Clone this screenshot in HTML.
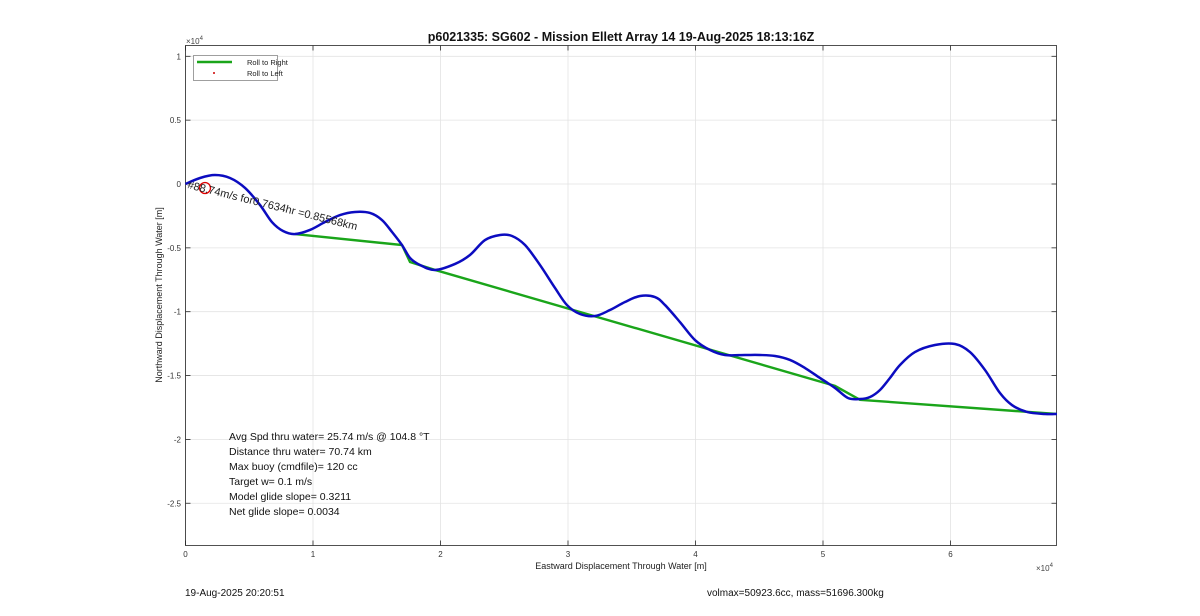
<!DOCTYPE html>
<html><head><meta charset="utf-8"><style>
body{margin:0;background:#fff;font-family:"Liberation Sans",Arial,sans-serif}
svg text{font-family:"Liberation Sans",Arial,sans-serif}
</style></head><body>
<svg id="chart" width="1200" height="611" viewBox="0 0 1200 611" xmlns="http://www.w3.org/2000/svg">
<rect width="1200" height="611" fill="#fff"/>
<text x="621" y="41" text-anchor="middle" font-size="12.5" font-weight="bold" fill="#111">p6021335: SG602 - Mission Ellett Array 14 19-Aug-2025 18:13:16Z</text>
<rect x="185.5" y="45.5" width="871" height="500" fill="#fff" stroke="none"/>
<g id="grid"></g>
<g id="ticks"></g>
<rect x="185.5" y="45.5" width="871" height="500" fill="none" stroke="#262626" stroke-width="0.8"/>
<g id="series"></g>
<circle cx="205" cy="188" r="5.5" fill="none" stroke="#d00" stroke-width="1.3"/>
<text x="187" y="188" font-size="11" fill="#222" transform="rotate(14 187 188)">#88.74m/s for0.7634hr =0.85568km</text>
<text x="186" y="44" font-size="8" fill="#444">×10<tspan dy="-4" font-size="6">4</tspan></text>
<text x="1036" y="571" font-size="8" fill="#444">×10<tspan dy="-4" font-size="6">4</tspan></text>
<text x="621" y="569" text-anchor="middle" font-size="9" fill="#222">Eastward Displacement Through Water [m]</text>
<text x="162" y="295" text-anchor="middle" font-size="9" fill="#222" transform="rotate(-90 162 295)">Northward Displacement Through Water [m]</text>
<g>
<rect x="193.5" y="55.5" width="84" height="25" fill="#fff" stroke="#777" stroke-width="0.7"/>
<line x1="197" y1="62" x2="232" y2="62" stroke="#1aa51a" stroke-width="2.5"/>
<text x="247" y="65" font-size="7.5" fill="#222">Roll to Right</text>
<circle cx="214" cy="73" r="1" fill="#c00"/>
<text x="247" y="76" font-size="7.5" fill="#222">Roll to Left</text>
</g>
<g font-size="10.5" fill="#111">
<text x="229" y="440">Avg Spd thru water= 25.74 m/s @ 104.8 °T</text>
<text x="229" y="455">Distance thru water= 70.74 km</text>
<text x="229" y="470">Max buoy (cmdfile)= 120 cc</text>
<text x="229" y="485">Target w= 0.1 m/s</text>
<text x="229" y="500">Model glide slope= 0.3211</text>
<text x="229" y="515">Net glide slope= 0.0034</text>
</g>
<text x="185" y="596" font-size="10" fill="#111">19-Aug-2025 20:20:51</text>
<text x="707" y="596" font-size="10" fill="#111">volmax=50923.6cc, mass=51696.300kg</text>
</svg>
<script>
const xTicks=[0,1,2,3,4,5,6];
const yTicks=[1,0.5,0,-0.5,-1,-1.5,-2,-2.5];
const yTickLabels=["1","0.5","0","-0.5","-1","-1.5","-2","-2.5"];
const blueX=[0,0.114,0.231,0.349,0.467,0.584,0.678,0.765,0.859,0.976,1.094,1.212,1.329,1.447,1.541,1.620,1.698,1.761,1.839,1.957,2.114,2.231,2.349,2.467,2.561,2.663,2.780,2.898,2.992,3.094,3.212,3.329,3.447,3.565,3.682,3.761,3.878,3.996,4.114,4.231,4.388,4.506,4.624,4.741,4.859,4.976,5.094,5.196,5.290,5.369,5.447,5.525,5.604,5.721,5.878,6.035,6.153,6.271,6.388,6.482,6.600,6.741,6.835];
const blueY=[0,0.047,0.070,0.047,-0.031,-0.164,-0.298,-0.368,-0.392,-0.360,-0.298,-0.243,-0.219,-0.227,-0.282,-0.376,-0.478,-0.579,-0.634,-0.673,-0.626,-0.556,-0.439,-0.399,-0.407,-0.478,-0.634,-0.814,-0.948,-1.018,-1.034,-0.987,-0.924,-0.877,-0.885,-0.948,-1.081,-1.222,-1.300,-1.339,-1.339,-1.339,-1.347,-1.378,-1.441,-1.519,-1.597,-1.676,-1.684,-1.668,-1.613,-1.519,-1.417,-1.316,-1.261,-1.253,-1.316,-1.457,-1.637,-1.731,-1.785,-1.801,-1.801];
const greenX=[0.859,1.698,1.761,1.957,5.094,5.290,6.835];
const greenY=[-0.392,-0.478,-0.611,-0.673,-1.581,-1.690,-1.801];
const X0=185.5,PX=127.5,Y0=184,PY=127.7;
const sx=v=>X0+v*PX, sy=v=>Y0-v*PY;
const NS="http://www.w3.org/2000/svg";
const grid=document.getElementById('grid'),ticks=document.getElementById('ticks'),series=document.getElementById('series');
function mk(tag,attrs,parent){const e=document.createElementNS(NS,tag);for(const k in attrs)e.setAttribute(k,attrs[k]);parent.appendChild(e);return e;}
function smooth(xs,ys){
 const p=xs.map((v,i)=>[sx(v),sy(ys[i])]);
 let d='M'+p[0][0]+','+p[0][1];
 for(let i=0;i<p.length-1;i++){
  const p0=p[Math.max(i-1,0)],p1=p[i],p2=p[i+1],p3=p[Math.min(i+2,p.length-1)];
  const c1=[p1[0]+(p2[0]-p0[0])/6,p1[1]+(p2[1]-p0[1])/6];
  const c2=[p2[0]-(p3[0]-p1[0])/6,p2[1]-(p3[1]-p1[1])/6];
  d+=' C'+c1.join(',')+' '+c2.join(',')+' '+p2.join(',');
 }
 return d;
}
xTicks.forEach(t=>{
 const x=sx(t);
 const g=mk('line',{x1:x,y1:45.5,x2:x,y2:545.5,stroke:'#e3e3e3','stroke-width':0.8},grid);
 
 
 mk('line',{x1:x,y1:545.5,x2:x,y2:540.5,stroke:'#262626','stroke-width':0.8},ticks);
 mk('line',{x1:x,y1:45.5,x2:x,y2:50.5,stroke:'#262626','stroke-width':0.8},ticks);
 const l=mk('text',{x:x,y:557,'text-anchor':'middle','font-size':8,fill:'#333'},ticks);
 l.textContent=String(t);
 
 
});
yTicks.forEach((t,i)=>{
 const y=sy(t);
 const g=mk('line',{x1:185.5,y1:y,x2:1056.5,y2:y,stroke:'#e3e3e3','stroke-width':0.8},grid);
 
 
 mk('line',{x1:185.5,y1:y,x2:190.5,y2:y,stroke:'#262626','stroke-width':0.8},ticks);
 mk('line',{x1:1056.5,y1:y,x2:1051.5,y2:y,stroke:'#262626','stroke-width':0.8},ticks);
 const l=mk('text',{x:181,y:y+3,'text-anchor':'end','font-size':8,fill:'#333'},ticks);
 l.textContent=yTickLabels[i];
 
 
});
const gp=mk('polyline',{points:greenX.map((v,i)=>sx(v)+','+sy(greenY[i])).join(' '),fill:'none',stroke:'#1aa51a','stroke-width':2.4},series);


const bp=mk('path',{d:smooth(blueX,blueY),fill:'none',stroke:'#0c0cc0','stroke-width':2.5,'stroke-linejoin':'round'},series);


</script>
</body></html>
